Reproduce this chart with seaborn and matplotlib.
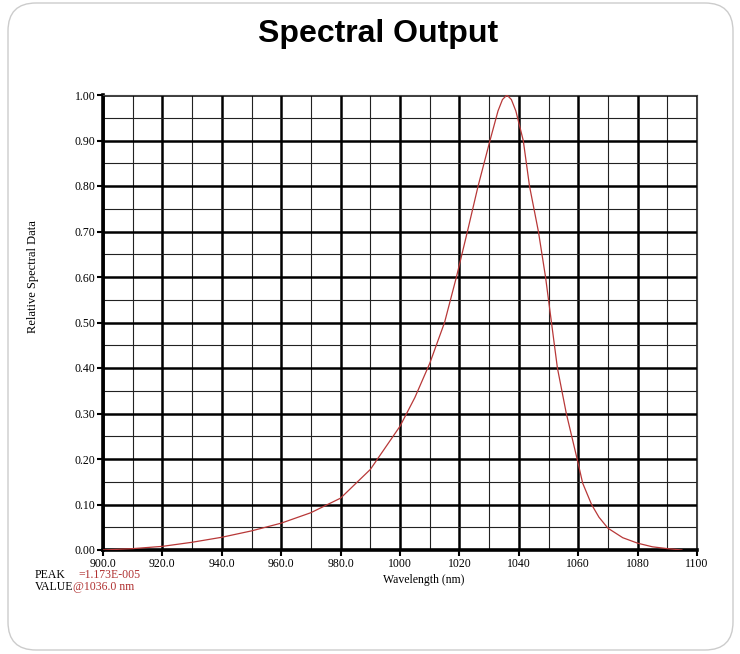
import numpy as np
import pandas as pd
import matplotlib
matplotlib.use("Agg")
import matplotlib.pyplot as plt
import seaborn as sns
from matplotlib.patches import FancyBboxPatch
from matplotlib.ticker import MultipleLocator

# --- data ---
wavelength = [900, 910, 920, 930, 940, 950, 960, 970, 980, 990, 1000, 1005,
              1010, 1015, 1019, 1022.7, 1026.3, 1030.3, 1033, 1034.5, 1036,
              1037.5, 1039, 1041.5, 1043.6, 1046.6, 1049, 1051, 1053, 1056,
              1058, 1060, 1061.5, 1064.5, 1067, 1070, 1075, 1080, 1085, 1090, 1095]
relative = [0.0, 0.003, 0.008, 0.017, 0.028, 0.042, 0.059, 0.082, 0.114, 0.177,
            0.272, 0.335, 0.41, 0.50, 0.60, 0.70, 0.80, 0.90, 0.965, 0.99, 1.0,
            0.99, 0.965, 0.90, 0.80, 0.70, 0.60, 0.50, 0.40, 0.30,
            0.245, 0.19, 0.147, 0.10, 0.072, 0.048, 0.027, 0.015, 0.007, 0.003, 0.0]

x_ticks = [900, 920, 940, 960, 980, 1000, 1020, 1040, 1060, 1080, 1100]
x_tick_labels = ["900.0", "920.0", "940.0", "960.0", "980.0",
                 "1000", "1020", "1040", "1060", "1080", "1100"]
y_ticks = [0.0, 0.1, 0.2, 0.3, 0.4, 0.5, 0.6, 0.7, 0.8, 0.9, 1.0]

df = pd.DataFrame({"wavelength": wavelength, "relative": relative})

sns.set_style("white")
plt.rcParams["font.family"] = ["Liberation Serif", "DejaVu Serif"]
plt.rcParams["text.color"] = "black"
plt.rcParams["axes.labelcolor"] = "black"
plt.rcParams["xtick.color"] = "black"
plt.rcParams["ytick.color"] = "black"

fig = plt.figure(figsize=(7.4, 6.54), dpi=100)

# rounded card behind everything
card = FancyBboxPatch((0.08, 0.04), 7.25, 6.47,
                      boxstyle="round,pad=0,rounding_size=0.28",
                      transform=fig.dpi_scale_trans,
                      facecolor="white", edgecolor="#cccccc", lw=1.0, zorder=-10)
fig.patches.append(card)

fig.text(0.511, 0.948, "Spectral Output", ha="center", va="center",
         fontsize=23, fontweight="bold", family=["Liberation Sans", "DejaVu Sans"])

ax = fig.add_axes([103 / 740, 1 - 550 / 654, 594 / 740, 455 / 654])
ax.set_zorder(2)
ax.set_facecolor("white")

sns.lineplot(data=df, x="wavelength", y="relative", ax=ax,
             color="#b83838", lw=0.9, zorder=5)

ax.set_xlim(900, 1100)
ax.set_ylim(0, 1.0)

ax.xaxis.set_minor_locator(MultipleLocator(10))
ax.yaxis.set_minor_locator(MultipleLocator(0.05))
ax.grid(which="major", color="black", lw=1.8)
ax.grid(which="minor", color="#222222", lw=0.8)
ax.set_axisbelow(True)

for side in ["top", "right"]:
    ax.spines[side].set_color("#444444")
    ax.spines[side].set_linewidth(0.8)
for side in ["left", "bottom"]:
    ax.spines[side].set_color("black")
    ax.spines[side].set_linewidth(2.6)

ax.set_xticks(x_ticks)
ax.set_xticklabels(x_tick_labels)
ax.set_yticks(y_ticks)
ax.set_yticklabels([f"{v:.2f}" for v in y_ticks])
ax.tick_params(which="major", direction="out", length=4, width=1.5,
               color="black", labelsize=8.5, pad=1.5, left=True, bottom=True)
ax.tick_params(which="minor", length=0)

ax.set_xlabel("Wavelength (nm)", fontsize=8.5, labelpad=0)
ax.xaxis.set_label_coords(0.54, -0.053)
ax.set_ylabel("Relative Spectral Data", fontsize=9)
ax.yaxis.set_label_coords(-0.107, 0.6)

# peak info text in the lower-left corner
fig.text(35 / 740, 1 - 575 / 654, "PEAK", fontsize=8.5, va="center")
fig.text(78 / 740, 1 - 575 / 654, "=1.173E-005", fontsize=8.5, va="center",
         color="#b03030")
fig.text(35 / 740, 1 - 587 / 654, "VALUE", fontsize=8.5, va="center")
fig.text(73 / 740, 1 - 587 / 654, "@1036.0 nm", fontsize=8.5, va="center",
         color="#b03030")

fig.savefig("out.png", dpi=100, facecolor="white")
